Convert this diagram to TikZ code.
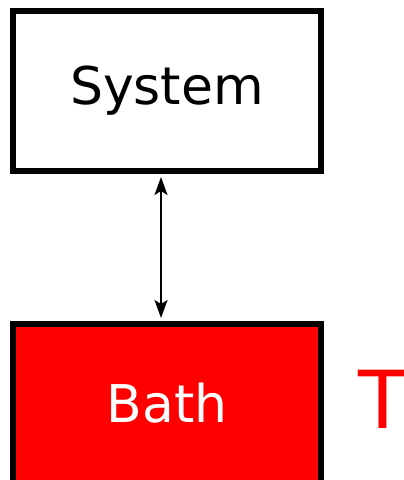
\documentclass[tikz,border=0pt]{standalone}
\usepackage{fontspec}
\setmainfont{DejaVu Sans}
\usetikzlibrary{arrows.meta}
\begin{document}
\begin{tikzpicture}[x=1pt,y=-1pt,
  boxstyle/.style={draw=black,line width=6pt,minimum width=308pt,inner sep=0pt,font=\fontsize{52}{60}\selectfont},
  link/.style={line width=2pt,{Stealth[length=18pt,width=13pt,inset=4pt]}-{Stealth[length=18pt,width=13pt,inset=4pt]}}]
\useasboundingbox (0,0) rectangle (404,480);
\node[boxstyle,minimum height=160pt,fill=white] (sys) at (167,91) {System};
\node[boxstyle,minimum height=170pt,fill=red,text=white,text depth=13.5pt] (bath) at (167,409) {Bath};
\node[anchor=base west,inner sep=0pt,text=red,font=\fontsize{80}{90}\selectfont] (temp) at (358,428) {T};
\draw[link] ([xshift=-6pt,yshift=-3pt]sys.south) -- ([xshift=-6pt,yshift=3pt]bath.north);
\end{tikzpicture}
\end{document}
